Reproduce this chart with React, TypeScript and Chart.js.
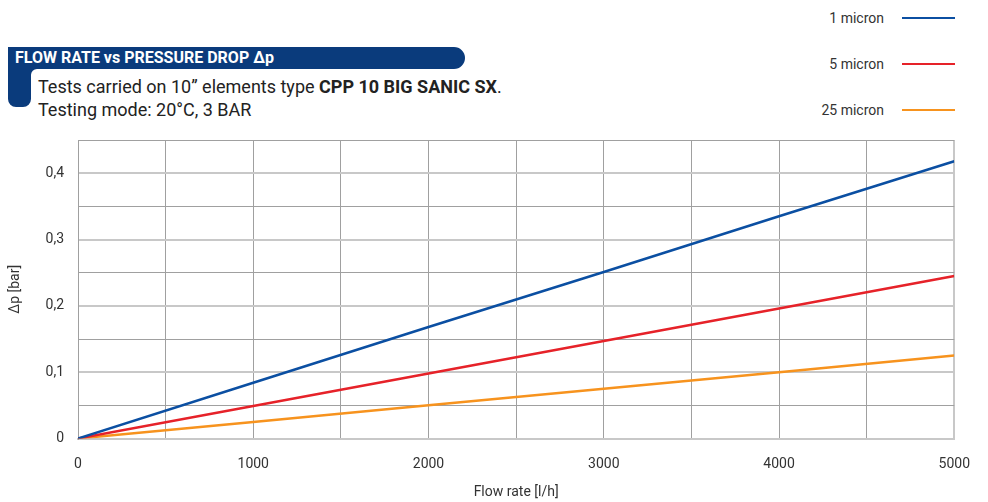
import React, { useEffect, useRef } from "react";
import { Chart, registerables } from "chart.js";

Chart.register(...registerables);

// ---- data ----
const flowRates = [0, 1000, 2000, 3000, 4000, 5000];
const micron1 = [0, 0.084, 0.168, 0.251, 0.335, 0.418];
const micron5 = [0, 0.049, 0.098, 0.147, 0.196, 0.245];
const micron25 = [0, 0.025, 0.05, 0.075, 0.1, 0.125];
const seriesLabels = ["1 micron", "5 micron", "25 micron"];
const seriesColors = ["#0b4fa2", "#e62229", "#f7931e"];
const seriesValues = [micron1, micron5, micron25];
const xAxisTitle = "Flow rate [l/h]";
const yAxisTitle = "Δp [bar]";
const titleText = "FLOW RATE vs PRESSURE DROP Δp";
const subtitlePlain = "Tests carried on 10” elements type ";
const subtitleBold = "CPP 10 BIG SANIC SX";
const subtitleLine2 = "Testing mode: 20°C, 3 BAR";

const FONT = "'Liberation Sans Narrow', 'Arial Narrow', Roboto, 'Liberation Sans', sans-serif";
const TEXT = "#333333";
const NAVY = "#0a3b7c";

export default function App() {
  const canvasRef = useRef<HTMLCanvasElement | null>(null);

  useEffect(() => {
    const canvas = canvasRef.current;
    if (!canvas) return;
    const chart = new Chart(canvas, {
      type: "line",
      data: {
        datasets: seriesLabels.map((label, i) => ({
          label,
          data: flowRates.map((x, j) => ({ x, y: seriesValues[i][j] })),
          borderColor: seriesColors[i],
          backgroundColor: seriesColors[i],
          borderWidth: 2.5,
          pointRadius: 0,
          tension: 0,
          fill: false,
        })),
      },
      options: {
        animation: false,
        responsive: false,
        maintainAspectRatio: false,
        layout: { padding: { top: 140, right: 32, left: 0, bottom: 0 } },
        plugins: {
          legend: { display: false },
          tooltip: { enabled: false },
        },
        scales: {
          x: {
            type: "linear",
            min: 0,
            max: 5000,
            afterFit: (s: any) => {
              s.height = 63.5;
            },
            border: { display: true, color: "#c8c8c8", width: 2 },
            grid: {
              drawTicks: false,
              color: (ctx: any) => (ctx.tick && ctx.tick.value === 5000 ? "#c8c8c8" : "#a0a0a0"),
              lineWidth: (ctx: any) => (ctx.tick && ctx.tick.value === 5000 ? 2 : 1),
            },
            ticks: {
              stepSize: 500,
              autoSkip: false,
              maxRotation: 0,
              padding: 18,
              color: TEXT,
              font: { family: FONT, size: 14 },
              callback: (v: any) => (Number(v) % 1000 === 0 ? String(v) : ""),
            },
            title: {
              display: true,
              text: xAxisTitle,
              color: TEXT,
              font: { family: FONT, size: 14 },
              padding: { top: 0, bottom: 1 },
            },
          },
          y: {
            type: "linear",
            min: 0,
            max: 0.45,
            afterFit: (s: any) => {
              s.width = 78;
            },
            border: { display: true, color: "#a0a0a0", width: 1 },
            grid: {
              drawTicks: false,
              color: (ctx: any) => {
                const v = Math.round((ctx.tick ? ctx.tick.value : 0) * 100);
                return v % 10 === 0 ? "#c8c8c8" : "#a0a0a0";
              },
              lineWidth: (ctx: any) => {
                const v = Math.round((ctx.tick ? ctx.tick.value : 0) * 100);
                return v % 10 === 0 ? 2 : 1;
              },
            },
            ticks: {
              stepSize: 0.05,
              autoSkip: false,
              padding: 14,
              color: TEXT,
              font: { family: FONT, size: 14 },
              callback: (v: any) => {
                const n = Math.round(Number(v) * 100);
                if (n % 10 !== 0) return "";
                if (n === 0) return "0";
                return (n / 100).toFixed(1).replace(".", ",");
              },
            },
            title: {
              display: true,
              text: yAxisTitle,
              color: TEXT,
              font: { family: FONT, size: 14 },
              padding: { top: 7, bottom: 0 },
            },
          },
        },
      },
    });
    return () => chart.destroy();
  }, []);

  return (
    <div
      style={{
        position: "absolute",
        left: 0,
        top: 0,
        width: 988,
        height: 502,
        background: "#ffffff",
        fontFamily: FONT,
        color: TEXT,
        overflow: "hidden",
      }}
    >
      <svg width={988} height={502} style={{ position: "absolute", left: 0, top: 0 }}>
        <path
          d="M 8 47 H 454 A 11 11 0 0 1 454 69 H 37 A 6 6 0 0 0 31 75 V 99 A 8 8 0 0 1 23 107 H 16 A 8 8 0 0 1 8 99 Z"
          fill={NAVY}
        />
      </svg>
      <div
        style={{
          position: "absolute",
          left: 15,
          top: 48,
          lineHeight: "20px",
          fontSize: 16,
          fontWeight: 700,
          color: "#ffffff",
          whiteSpace: "nowrap",
        }}
      >
        {titleText}
      </div>
      <div
        style={{
          position: "absolute",
          left: 38,
          top: 75,
          lineHeight: "23px",
          fontSize: 18,
          color: "#222222",
          whiteSpace: "nowrap",
        }}
      >
        <div>
          {subtitlePlain}
          <b>{subtitleBold}</b>.
        </div>
        <div>{subtitleLine2}</div>
      </div>
      {seriesLabels.map((label, i) => (
        <div key={label}>
          <div
            style={{
              position: "absolute",
              right: 988 - 884,
              top: 18 + i * 46 - 9,
              lineHeight: "18px",
              fontSize: 14,
              whiteSpace: "nowrap",
            }}
          >
            {label}
          </div>
          <div
            style={{
              position: "absolute",
              left: 902,
              width: 53,
              top: 18 + i * 46 - 1,
              height: 2,
              background: seriesColors[i],
            }}
          />
        </div>
      ))}
      <canvas
        ref={canvasRef}
        width={988}
        height={502}
        style={{ position: "absolute", left: 0, top: 0, width: 988, height: 502 }}
      />
    </div>
  );
}
